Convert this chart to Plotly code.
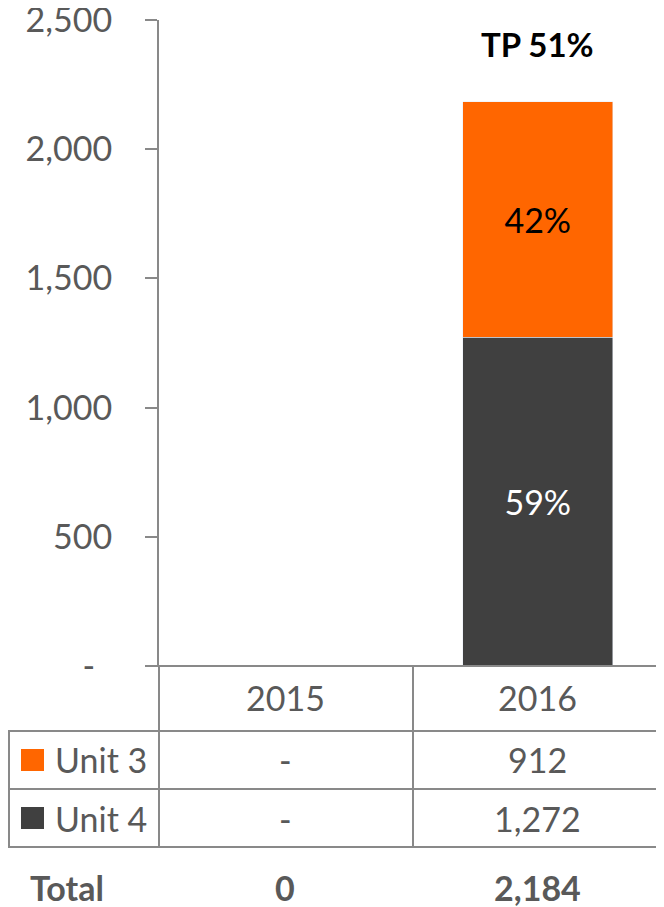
import plotly.graph_objects as go

categories = ["2015", "2016"]
unit3 = [0, 912]
unit4 = [0, 1272]
unit3_labels = ["", "42%"]
unit4_labels = ["", "59%"]
top_labels = ["", "TP 51%"]
series_names = ["Unit 3", "Unit 4"]
y_ticks = [0, 500, 1000, 1500, 2000, 2500]
y_ticktext = ["-\u2002", "500", "1,000", "1,500", "2,000", "2,500"]

ORANGE = "#FF6600"
DARK = "#404040"
GRAY_TXT = "#595959"
LINE = "#898989"
FONT = "Lato"
FS = 34

OFF = 8  # page body margin
W, H = 664 - OFF, 907 - OFF
ML, MR, MT, MB = 159 - OFF, 0, 20 - OFF, 907 - 666
PW = W - ML - MR
PH = H - MT - MB


def py(p):
    return (H - MB - (p - OFF)) / PH


def px(p):
    return (p - OFF - ML) / PW


def fmt(v):
    return "-" if v == 0 else f"{v:,}"


totals = [a + b for a, b in zip(unit3, unit4)]

fig = go.Figure()
fig.add_trace(go.Bar(x=categories, y=unit4, name=series_names[1], marker_color=DARK,
                     text=unit4_labels, textposition="inside", insidetextanchor="middle",
                     textfont=dict(color="white", size=FS, family=FONT), showlegend=False))
fig.add_trace(go.Bar(x=categories, y=unit3, name=series_names[0], marker_color=ORANGE,
                     text=unit3_labels, textposition="inside", insidetextanchor="middle",
                     textfont=dict(color="black", size=FS, family=FONT), showlegend=False))

ann = []
for i, (t, lab) in enumerate(zip(totals, top_labels)):
    if lab:
        ann.append(dict(x=i, y=t, xref="x", yref="y", text=f"<b>{lab}</b>", showarrow=False,
                        xanchor="center", yanchor="bottom", yshift=36,
                        font=dict(color="black", size=FS - 1, family=FONT)))

shapes = []
shapes.append(dict(type="line", xref="paper", yref="paper", x0=px(147), x1=1, y0=0, y1=0,
                   line=dict(color=LINE, width=2)))
for yy in [731, 789, 847]:
    shapes.append(dict(type="line", xref="paper", yref="paper", x0=px(8), x1=1, y0=py(yy), y1=py(yy),
                       line=dict(color=LINE, width=2)))
for xx in [159, 413]:
    shapes.append(dict(type="line", xref="paper", yref="paper", x0=px(xx), x1=px(xx), y0=0, y1=py(847),
                       line=dict(color=LINE, width=2)))
shapes.append(dict(type="line", xref="paper", yref="paper", x0=px(9), x1=px(9), y0=py(731), y1=py(847),
                   line=dict(color=LINE, width=2)))
for yc, col in [(760, ORANGE), (818, DARK)]:
    shapes.append(dict(type="rect", xref="paper", yref="paper", x0=px(21), x1=px(44), y0=py(yc + 11), y1=py(yc - 11),
                       fillcolor=col, line=dict(width=0)))

font_t = dict(color=GRAY_TXT, size=FS, family=FONT)
for i, c in enumerate(categories):
    ann.append(dict(x=i, y=py(698), xref="x", yref="paper", text=c, showarrow=False,
                    xanchor="center", yanchor="middle", font=font_t))
rows = [(series_names[0], unit3, 760), (series_names[1], unit4, 818)]
for name, vals, yc in rows:
    ann.append(dict(x=px(53), y=py(yc), xref="paper", yref="paper", text=name, showarrow=False,
                    xanchor="left", yanchor="middle", font=font_t))
    for i, v in enumerate(vals):
        ann.append(dict(x=i, y=py(yc), xref="x", yref="paper", text=fmt(v), showarrow=False,
                        xanchor="center", yanchor="middle", font=font_t))
ann.append(dict(x=px(28), y=py(887), xref="paper", yref="paper", text="<b>Total</b>", showarrow=False,
                xanchor="left", yanchor="middle", font=font_t))
for i, t in enumerate(totals):
    ann.append(dict(x=i, y=py(887), xref="x", yref="paper", text=f"<b>{t:,}</b>", showarrow=False,
                    xanchor="center", yanchor="middle", font=font_t))

fig.update_layout(
    width=W, height=H, barmode="stack", bargap=0.406,
    margin=dict(l=ML, r=MR, t=MT, b=MB, autoexpand=False),
    plot_bgcolor="white", paper_bgcolor="white",
    xaxis=dict(type="category", range=[-0.5, 1.5], showticklabels=False, showline=False, showgrid=False,
               ticks="", zeroline=False),
    yaxis=dict(range=[0, 2500], tickvals=y_ticks, ticktext=y_ticktext, showgrid=False, zeroline=False,
               showline=True, linecolor=LINE, linewidth=2, ticks="outside", ticklen=12, tickwidth=2,
               tickcolor=LINE, ticklabelstandoff=26, ticklabeloverflow="allow",
               tickfont=dict(color=GRAY_TXT, size=FS, family=FONT)),
    annotations=ann, shapes=shapes,
)

fig.write_html("out.html")
